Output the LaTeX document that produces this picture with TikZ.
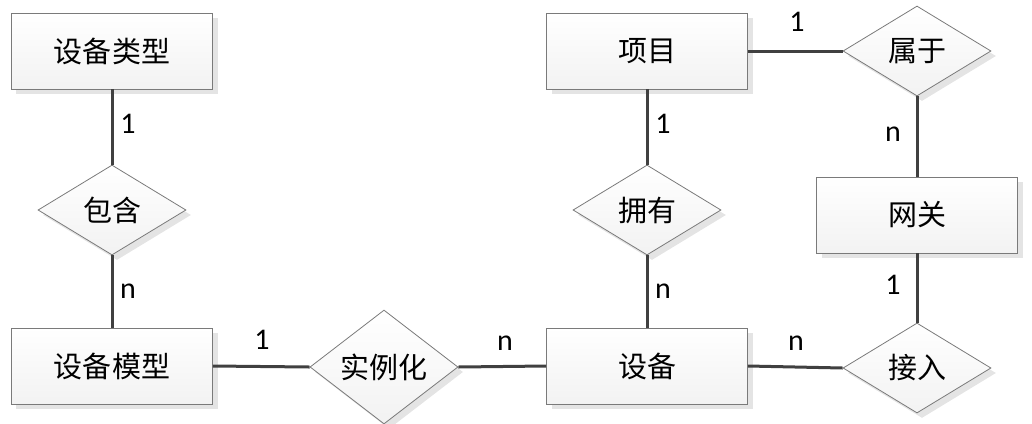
\documentclass[tikz,border=0pt]{standalone}
\usepackage{fontspec}
\setmainfont{Noto Sans CJK SC}
\newfontfamily\cardfont{Carlito}
\usetikzlibrary{shapes.geometric,shadows}
\definecolor{linegray}{HTML}{404040}
\definecolor{bordergray}{HTML}{7A7A7A}
\begin{document}
\begin{tikzpicture}[x=1bp,y=-1bp,
  entity/.style={draw=bordergray, line width=0.8bp, top color=white, bottom color=gray!10,
    minimum width=201bp, minimum height=76bp, inner sep=0pt,
    drop shadow={shadow xshift=5bp, shadow yshift=-5bp, fill=gray!35, opacity=0.6},
    font=\fontsize{29bp}{32bp}\selectfont},
  relation/.style={diamond, draw=bordergray, line width=0.8bp, top color=white, bottom color=gray!10,
    minimum width=148bp, minimum height=90bp, inner sep=0pt,
    drop shadow={shadow xshift=5bp, shadow yshift=-5bp, fill=gray!35, opacity=0.6},
    font=\fontsize{29bp}{32bp}\selectfont},
  link/.style={draw=linegray, line width=3bp},
  card/.style={font=\cardfont\fontsize{30bp}{32bp}\selectfont, inner sep=0pt}]
\useasboundingbox (0,0) rectangle (1032,423);
\node[entity] (type) at (112,51) {设备类型};
\node[relation] (contain) at (112,210) {包含};
\node[entity] (model) at (112,366) {设备模型};
\node[relation] (inst) at (384,367) {实例化};
\node[entity] (dev) at (647,366) {设备};
\node[entity] (proj) at (647,51) {项目};
\node[relation] (own) at (647,210) {拥有};
\node[relation] (belong) at (917,51) {属于};
\node[entity] (gw) at (917,215) {网关};
\node[relation] (access) at (917,368) {接入};

\draw[link] (type) -- (contain);
\draw[link] (contain) -- (model);
\draw[link] (model.east) -- (inst.west);
\draw[link] (inst.east) -- (dev.west);
\draw[link] (proj) -- (own);
\draw[link] (own) -- (dev);
\draw[link] (proj.east) -- (belong.west);
\draw[link] (belong) -- (gw);
\draw[link] (gw) -- (access);
\draw[link] (dev.east) -- (access.west);

\node[card] (l1) at (128,124) {1};
\node[card] (l2) at (128,291) {n};
\node[card] (l3) at (262,340) {1};
\node[card] (l4) at (505,343) {n};
\node[card] (l5) at (663,124) {1};
\node[card] (l6) at (663,291) {n};
\node[card] (l7) at (796,343) {n};
\node[card] (l8) at (797,22) {1};
\node[card] (l9) at (893,134) {n};
\node[card] (l10) at (893,285) {1};
\end{tikzpicture}
\end{document}
